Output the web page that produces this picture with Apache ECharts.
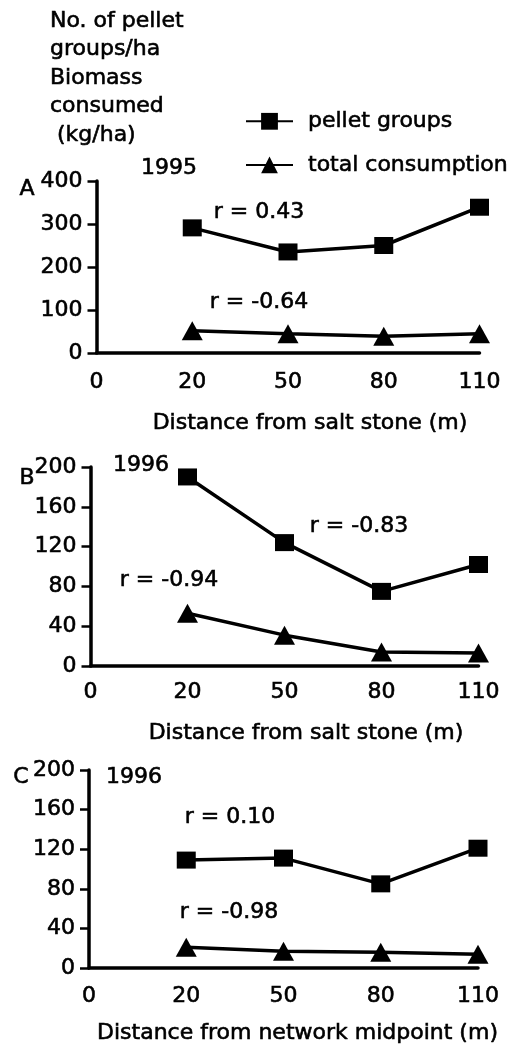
<!DOCTYPE html>
<html>
<head>
<meta charset="utf-8">
<script src="https://cdn.jsdelivr.net/npm/echarts@6/dist/echarts.min.js"></script>
<style>
  html, body { margin: 0; padding: 0; background: #fff; }
  #chart { width: 510px; height: 1048px; }
</style>
</head>
<body>
<div id="chart"></div>
<script>
// ---- data ----
const categories = ['0', '20', '50', '80', '110'];
const pelletA = [null, 291, 235, 250, 339];
const consumA = [null, 52, 45, 39, 45];
const pelletB = [null, 190, 124, 75, 102];
const consumB = [null, 53, 31, 14, 13];
const pelletC = [null, 109, 111, 85, 121];
const consumC = [null, 21, 17, 16, 14];
const yMaxA = 400, yStepA = 100;
const yMaxB = 200, yStepB = 40;
const yMaxC = 200, yStepC = 40;
const yTitle = 'No. of pellet\ngroups/ha\nBiomass\nconsumed\n (kg/ha)';
const xNameAB = 'Distance from salt stone (m)';
const xNameC = 'Distance from network midpoint (m)';
const rLabels = ['r = 0.43', 'r = -0.64', 'r = -0.83', 'r = -0.94', 'r = 0.10', 'r = -0.98'];
const years = ['1995', '1996', '1996'];
const panels = ['A', 'B', 'C'];
const seriesNames = ['pellet groups', 'total consumption'];

// ---- chart ----
const FONT = 'DejaVu Sans';
const FS = 22;
const BW = 0.6; // slight stroke to mimic heavier print
const chart = echarts.init(document.getElementById('chart'), null, { renderer: 'canvas' });

const grids = [
  { left: 96.5, top: 181, width: 383, height: 172 },
  { left: 90.5, top: 467, width: 388, height: 199 },
  { left: 89, top: 770, width: 389, height: 198 }
];
const xMargins = [18, 15, 17];

function xAxis(i) {
  return {
    type: 'category', gridIndex: i, data: categories, boundaryGap: false,
    axisLine: { lineStyle: { color: '#000', width: 3.5 } },
    axisTick: { show: false },
    axisLabel: { color: '#000', fontFamily: FONT, fontSize: FS, margin: xMargins[i], interval: 0,
                 textBorderColor: '#000', textBorderWidth: BW },
    splitLine: { show: false }
  };
}
function yAxis(i, max, step) {
  return {
    type: 'value', gridIndex: i, min: 0, max: max, interval: step,
    axisLine: { show: true, lineStyle: { color: '#000', width: 3.5 } },
    axisTick: { show: true, length: 9, lineStyle: { color: '#000', width: 2.5 } },
    axisLabel: { color: '#000', fontFamily: FONT, fontSize: FS, margin: 14,
                 textBorderColor: '#000', textBorderWidth: BW },
    splitLine: { show: false }
  };
}
function lineSeries(name, data, i, symbol, size) {
  return {
    name: name, type: 'line', xAxisIndex: i, yAxisIndex: i, data: data,
    symbol: symbol, symbolSize: size, showSymbol: true, connectNulls: false,
    lineStyle: { color: '#000', width: 3.5 },
    itemStyle: { color: '#000' },
    emphasis: { disabled: true },
    z: 3
  };
}

function txt(text, x, y, align) {
  return {
    type: 'text', silent: true,
    style: { text: text, x: x, y: y, textAlign: align || 'center', textVerticalAlign: 'middle',
             font: FS + 'px "' + FONT + '"', fill: '#000', stroke: '#000', lineWidth: BW }
  };
}

const option = {
  animation: false,
  backgroundColor: '#fff',
  grid: grids,
  xAxis: [xAxis(0), xAxis(1), xAxis(2)],
  yAxis: [yAxis(0, yMaxA, yStepA), yAxis(1, yMaxB, yStepB), yAxis(2, yMaxC, yStepC)],
  legend: {
    orient: 'vertical', left: 240, top: 105,
    itemWidth: 47, itemHeight: 21, itemGap: 21,
    data: seriesNames,
    textStyle: { color: '#000', fontFamily: FONT, fontSize: FS, lineHeight: 22, padding: [0, 0, 0, 10],
                 textBorderColor: '#000', textBorderWidth: BW },
    selectedMode: false
  },
  series: [
    lineSeries(seriesNames[0], pelletA, 0, 'rect', [19, 17]),
    lineSeries(seriesNames[1], consumA, 0, 'triangle', [21, 19]),
    lineSeries(seriesNames[0], pelletB, 1, 'rect', [19, 17]),
    lineSeries(seriesNames[1], consumB, 1, 'triangle', [21, 19]),
    lineSeries(seriesNames[0], pelletC, 2, 'rect', [19, 17]),
    lineSeries(seriesNames[1], consumC, 2, 'triangle', [21, 19])
  ],
  graphic: [
    {
      type: 'text', silent: true,
      style: { text: yTitle, x: 50, y: 7, textAlign: 'left', textVerticalAlign: 'top',
               font: FS + 'px "' + FONT + '"', lineHeight: 28.5, fill: '#000', stroke: '#000', lineWidth: BW }
    },
    txt(panels[0], 27, 189), txt(panels[1], 27, 478), txt(panels[2], 21, 777),
    txt(years[0], 169, 168), txt(years[1], 141, 465), txt(years[2], 134, 777),
    txt(rLabels[0], 259, 212), txt(rLabels[1], 259, 302),
    txt(rLabels[2], 359, 526), txt(rLabels[3], 169, 580),
    txt(rLabels[4], 230, 817), txt(rLabels[5], 229, 912),
    txt(xNameAB, 310, 423), txt(xNameAB, 306, 733), txt(xNameC, 297.5, 1033)
  ]
};
chart.setOption(option);
</script>
</body>
</html>
